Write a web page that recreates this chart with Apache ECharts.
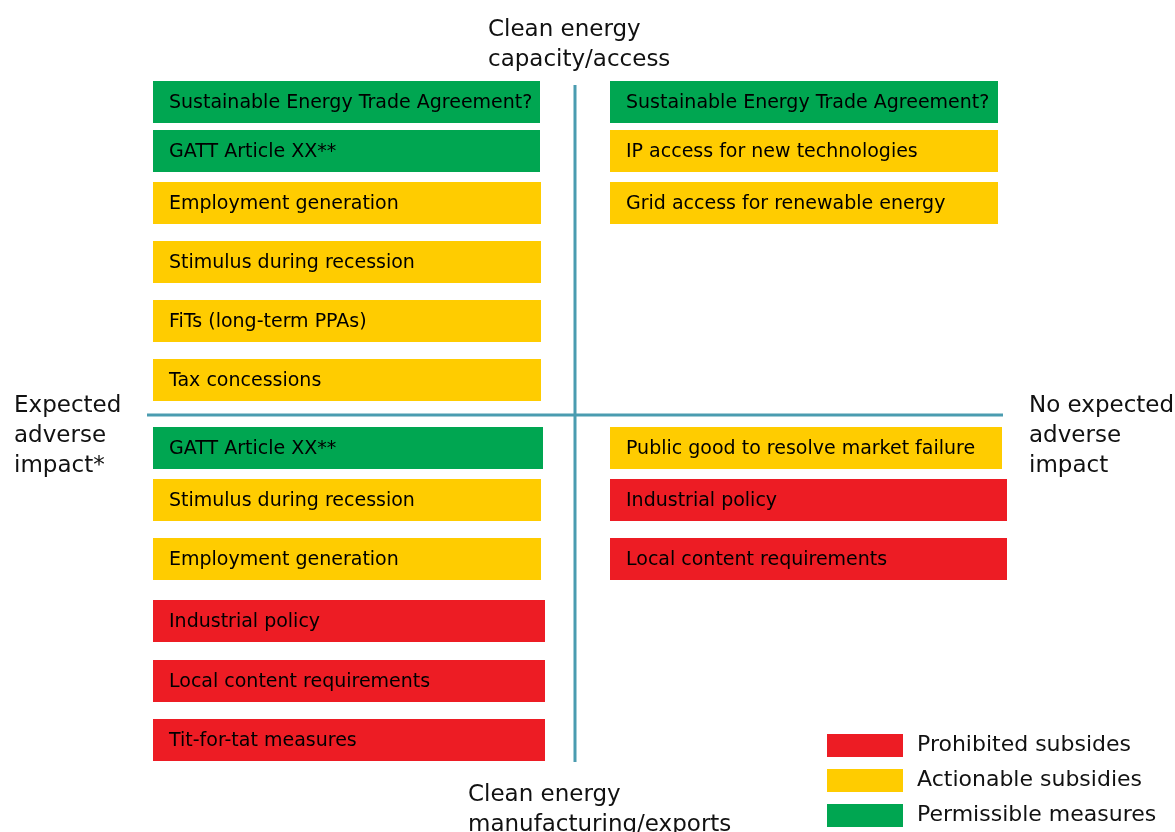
<!DOCTYPE html>
<html>
<head>
<meta charset="utf-8">
<script src="https://cdn.jsdelivr.net/npm/echarts@6/dist/echarts.min.js"></script>
<style>
html,body{margin:0;padding:0;background:#fff;}
#chart{width:1175px;height:832px;}
</style>
</head>
<body>
<div id="chart"></div>
<script>
// ---- data ----
const categories = ["Prohibited subsides", "Actionable subsidies", "Permissible measures"];
const upperLeftLabels = ["Sustainable Energy Trade Agreement?", "GATT Article XX**", "Employment generation", "Stimulus during recession", "FiTs (long-term PPAs)", "Tax concessions"];
const upperLeftTypes  = [2, 2, 1, 1, 1, 1];
const lowerLeftLabels = ["GATT Article XX**", "Stimulus during recession", "Employment generation", "Industrial policy", "Local content requirements", "Tit-for-tat measures"];
const lowerLeftTypes  = [2, 1, 1, 0, 0, 0];
const upperRightLabels = ["Sustainable Energy Trade Agreement?", "IP access for new technologies", "Grid access for renewable energy"];
const upperRightTypes  = [2, 1, 1];
const lowerRightLabels = ["Public good to resolve market failure", "Industrial policy", "Local content requirements"];
const lowerRightTypes  = [1, 0, 0];
const axisTitles = {
  top: "Clean energy\ncapacity/access",
  bottom: "Clean energy\nmanufacturing/exports",
  left: "Expected\nadverse\nimpact*",
  right: "No expected\nadverse\nimpact"
};

// ---- layout ----
const W = 1175, H = 832;
const colors = ["#ed1c24", "#ffcc00", "#00a651"];
const lineColor = "#4a9cb0";
const boxH = 42;
const quadrants = [
  {labels: upperLeftLabels, types: upperLeftTypes, x0: 153, rows: [102, 151, 203, 262, 321, 380], right: [540, 540, 541, 541, 541, 541]},
  {labels: lowerLeftLabels, types: lowerLeftTypes, x0: 153, rows: [448, 500, 559, 621, 681, 740], right: [543, 541, 541, 545, 545, 545]},
  {labels: upperRightLabels, types: upperRightTypes, x0: 610, rows: [102, 151, 203], right: [998, 998, 998]},
  {labels: lowerRightLabels, types: lowerRightTypes, x0: 610, rows: [448, 500, 559], right: [1002, 1007, 1007]}
];

const seriesData = [[], [], []];
quadrants.forEach(q => {
  q.labels.forEach((lab, i) => {
    seriesData[q.types[i]].push([q.x0, q.rows[i], q.right[i], lab]);
  });
});

function renderBox(params, api) {
  const x0 = api.value(0), yc = api.value(1), x1 = api.value(2);
  const p0 = api.coord([x0, yc - boxH / 2]);
  const p1 = api.coord([x1, yc + boxH / 2]);
  const pc = api.coord([x0, yc]);
  return {
    type: 'group',
    children: [
      {type: 'rect', shape: {x: p0[0], y: p0[1], width: p1[0] - p0[0], height: p1[1] - p0[1]},
       style: {fill: colors[params.seriesIndex]}},
      {type: 'text', x: pc[0] + 16, y: pc[1] + 1,
       style: {text: api.value(3), fill: '#000', font: '19px "DejaVu Sans"', textVerticalAlign: 'middle', textAlign: 'left'}}
    ]
  };
}

const series = categories.map((name, k) => ({
  name: name,
  type: 'custom',
  coordinateSystem: 'cartesian2d',
  itemStyle: {color: colors[k]},
  renderItem: renderBox,
  data: seriesData[k],
  encode: {x: [0, 2], y: 1},
  z: 3
}));

// cross lines
const crossLines = [[575, 85, 575, 762], [147, 415, 1003, 415]];
series.push({
  type: 'custom',
  coordinateSystem: 'cartesian2d',
  silent: true,
  renderItem: function (params, api) {
    const a = api.coord([api.value(0), api.value(1)]);
    const b = api.coord([api.value(2), api.value(3)]);
    return {type: 'line', shape: {x1: a[0], y1: a[1], x2: b[0], y2: b[1]},
            style: {stroke: lineColor, lineWidth: 3}};
  },
  data: crossLines,
  z: 2
});

const chart = echarts.init(document.getElementById('chart'), null, {renderer: 'canvas'});
const titleFont = {fontFamily: 'DejaVu Sans', fontSize: 23, lineHeight: 30, fill: '#111'};
chart.setOption({
  animation: false,
  backgroundColor: '#fff',
  grid: {left: 0, right: 0, top: 0, bottom: 0},
  xAxis: {type: 'value', min: 0, max: W, show: false},
  yAxis: {type: 'value', min: 0, max: H, inverse: true, show: false},
  legend: {
    orient: 'vertical', left: 827, top: 734, height: 98, width: 348,
    padding: 0,
    itemWidth: 76, itemHeight: 23, itemGap: 12,
    icon: 'rect',
    data: categories,
    textStyle: {fontFamily: 'DejaVu Sans', fontSize: 22, color: '#111', padding: [0, 0, 0, 9]},
    selectedMode: false
  },
  graphic: [
    {type: 'text', left: 488, top: 15, style: Object.assign({text: axisTitles.top}, titleFont)},
    {type: 'text', left: 468, top: 780, style: Object.assign({text: axisTitles.bottom}, titleFont)},
    {type: 'text', left: 14, top: 391, style: Object.assign({text: axisTitles.left}, titleFont)},
    {type: 'text', left: 1029, top: 391, style: Object.assign({text: axisTitles.right}, titleFont)}
  ],
  series: series
});
</script>
</body>
</html>
